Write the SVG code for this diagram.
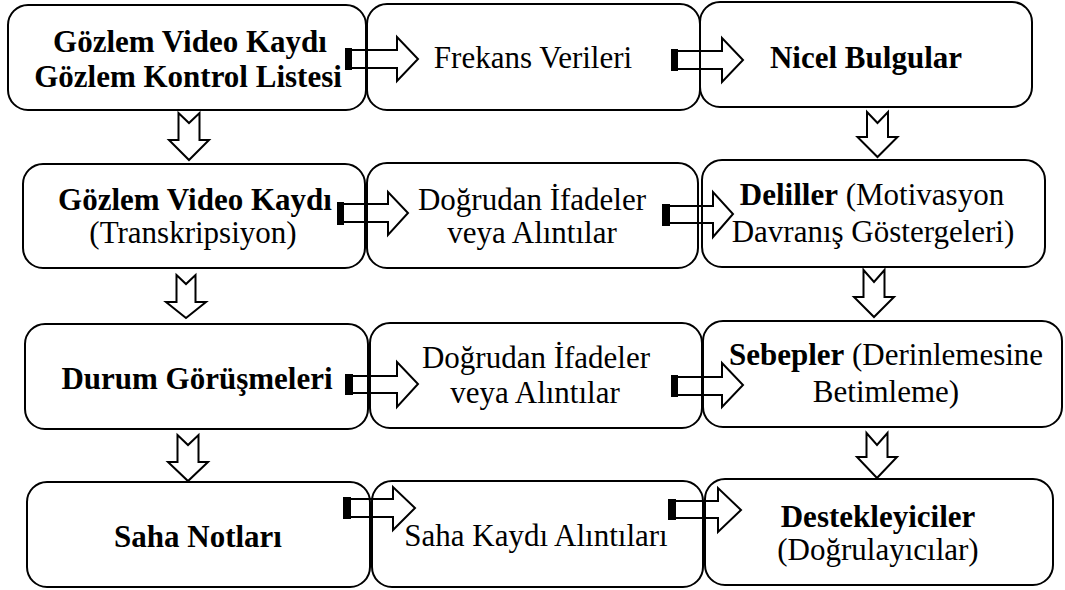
<svg xmlns="http://www.w3.org/2000/svg" width="1065" height="590" viewBox="0 0 1065 590">
  <rect width="1065" height="590" fill="#fff"/>

  <!-- Nodes: rounded boxes with centred serif labels -->
  <g id="nodes" font-family="Liberation Serif" font-size="31" text-anchor="middle" fill="#000">
    <!-- Row 1 -->
    <g id="video-kontrol">
      <rect x="8" y="5" width="358" height="105" rx="20" fill="#fff" stroke="#000" stroke-width="2"/>
      <text x="190" y="52" font-weight="bold">Gözlem Video Kaydı</text>
      <text x="188" y="87" font-weight="bold">Gözlem Kontrol Listesi</text>
    </g>
    <g id="frekans">
      <rect x="367" y="4" width="333" height="106" rx="20" fill="#fff" stroke="#000" stroke-width="2"/>
      <text x="533" y="68">Frekans Verileri</text>
    </g>
    <g id="nicel">
      <rect x="700" y="2" width="332" height="105" rx="20" fill="#fff" stroke="#000" stroke-width="2"/>
      <text x="866" y="68" font-weight="bold">Nicel Bulgular</text>
    </g>

    <!-- Row 2 -->
    <g id="video-transkripsiyon">
      <rect x="23" y="164" width="342" height="104" rx="20" fill="#fff" stroke="#000" stroke-width="2"/>
      <text x="195" y="210" font-weight="bold">Gözlem Video Kaydı</text>
      <text x="193" y="243">(Transkripsiyon)</text>
    </g>
    <g id="ifadeler-1">
      <rect x="367" y="163" width="331" height="105" rx="20" fill="#fff" stroke="#000" stroke-width="2"/>
      <text x="532" y="210">Doğrudan İfadeler</text>
      <text x="532" y="243">veya Alıntılar</text>
    </g>
    <g id="deliller">
      <rect x="702" y="160" width="343" height="107" rx="20" fill="#fff" stroke="#000" stroke-width="2"/>
      <text x="872" y="205"><tspan font-weight="bold">Deliller</tspan> (Motivasyon</text>
      <text x="873" y="242">Davranış Göstergeleri)</text>
    </g>

    <!-- Row 3 -->
    <g id="gorusmeler">
      <rect x="25" y="324" width="343" height="105" rx="20" fill="#fff" stroke="#000" stroke-width="2"/>
      <text x="197" y="389" font-weight="bold">Durum Görüşmeleri</text>
    </g>
    <g id="ifadeler-2">
      <rect x="370" y="323" width="332" height="105" rx="20" fill="#fff" stroke="#000" stroke-width="2"/>
      <text x="536" y="368">Doğrudan İfadeler</text>
      <text x="535" y="403">veya Alıntılar</text>
    </g>
    <g id="sebepler">
      <rect x="703" y="321" width="359" height="106" rx="20" fill="#fff" stroke="#000" stroke-width="2"/>
      <text x="886" y="365"><tspan font-weight="bold">Sebepler</tspan> (Derinlemesine</text>
      <text x="886" y="402">Betimleme)</text>
    </g>

    <!-- Row 4 -->
    <g id="saha-notlari">
      <rect x="27" y="482" width="343" height="105" rx="20" fill="#fff" stroke="#000" stroke-width="2"/>
      <text x="198" y="547" font-weight="bold">Saha Notları</text>
    </g>
    <g id="saha-alintilari">
      <rect x="372" y="481" width="331" height="106" rx="20" fill="#fff" stroke="#000" stroke-width="2"/>
      <text x="536" y="546">Saha Kaydı Alıntıları</text>
    </g>
    <g id="destekleyiciler">
      <rect x="705" y="479" width="348" height="106" rx="20" fill="#fff" stroke="#000" stroke-width="2"/>
      <text x="878" y="527" font-weight="bold">Destekleyiciler</text>
      <text x="878" y="560">(Doğrulayıcılar)</text>
    </g>
  </g>

  <!-- Connectors: block arrows with a solid tail, and notched down arrows -->
  <g id="connectors" stroke="#000" stroke-width="2" stroke-linejoin="miter">
    <g id="tails" fill="#000" stroke="none">
      <rect x="345" y="48" width="7" height="22"/>
      <rect x="671" y="49" width="7" height="22"/>
      <rect x="337" y="202" width="7" height="23"/>
      <rect x="662" y="204" width="8" height="22"/>
      <rect x="345" y="374" width="8" height="21"/>
      <rect x="671" y="375" width="7" height="22"/>
      <rect x="343" y="497" width="8" height="22"/>
      <rect x="668" y="499" width="8" height="21"/>
    </g>
    <g id="right-arrows" fill="none">
      <path d="M352 50 H397 V37 L418 59 L397 81 V68 H352"/>
      <path d="M678 51 H722 V38 L743 60 L722 82 V69 H678"/>
      <path d="M344 204 H388 V192 L408 213 L388 235 V222 H344"/>
      <path d="M670 206 H713 V192 L733 214 L713 237 V223 H670"/>
      <path d="M353 376 H397 V362 L418 384 L397 407 V393 H353"/>
      <path d="M678 377 H722 V363 L743 385 L722 407 V395 H678"/>
      <path d="M351 499 H393 V487 L415 508 L393 530 V517 H351"/>
      <path d="M676 501 H718 V488 L741 510 L718 532 V518 H676"/>
    </g>
    <g id="down-arrows" fill="#fff">
      <path d="M178.5 113 L189 123 L199.5 113 V140 H209 L189 160 L169 140 H178.5 Z"/>
      <path d="M176.5 275 L186 284 L195.5 275 V302 H206 L186 318 L166 302 H176.5 Z"/>
      <path d="M177.5 435 L188 445 L198.5 435 V462 H208 L188 481 L168 462 H177.5 Z"/>
      <path d="M867 112 L877.5 123 L888 112 V137 H897.5 L877.5 157 L857.5 137 H867 Z"/>
      <path d="M863.5 270 L874 282 L884.5 270 V297 H894 L874 317 L854 297 H863.5 Z"/>
      <path d="M866.5 433 L877 445 L887.5 433 V457 H897 L877 478 L857 457 H866.5 Z"/>
    </g>
  </g>
</svg>
